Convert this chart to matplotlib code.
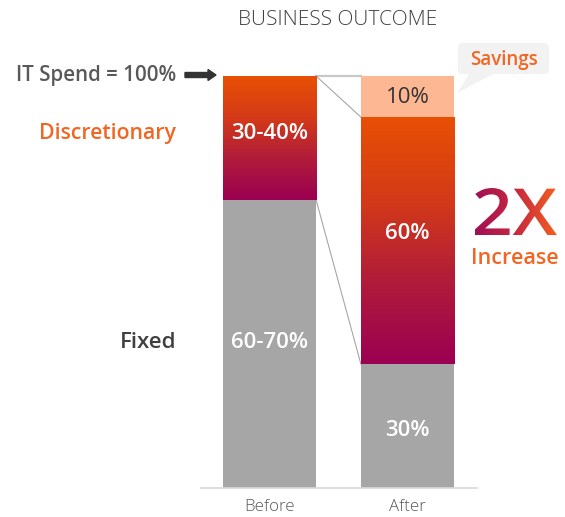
import numpy as np
import matplotlib
matplotlib.use("Agg")
import matplotlib.pyplot as plt
from matplotlib.colors import LinearSegmentedColormap
from matplotlib.patches import FancyBboxPatch, Polygon, PathPatch, FancyArrow
from matplotlib.textpath import TextPath
from matplotlib.font_manager import FontProperties
from matplotlib.transforms import Affine2D

# ---- data ----
categories = ["Before", "After"]
fixed = [70, 30]
discretionary = [30, 60]
savings = [0, 10]
fixed_labels = ["60-70%", "30%"]
disc_labels = ["30-40%", "60%"]
savings_labels = ["", "10%"]

W, H = 565, 517
fig = plt.figure(figsize=(W / 100, H / 100), dpi=100)
FONT = "Open Sans"

GRAY = "#A6A6A6"
ORANGE = "#E85005"
PURPLE = "#9B0052"
SAV = "#FDB792"
TXT_ORANGE = "#F26522"
DARK = "#404040"

ax = fig.add_axes([200.5 / W, 29 / H, 276 / W, 412 / H])
ax.set_xlim(-0.5, 1.5)
ax.set_ylim(0, 100)
bw = 0.674
x = np.arange(len(categories))

ax.bar(x, fixed, bw, color=GRAY, zorder=2)
disc_bars = ax.bar(x, discretionary, bw, bottom=fixed, color="none", zorder=2)
ax.bar(x, savings, bw, bottom=np.array(fixed) + np.array(discretionary), color=SAV, zorder=2)

cmap = LinearSegmentedColormap.from_list("g", [PURPLE, "#B01C3A", "#D43A18", ORANGE])
grad = np.linspace(0, 1, 256).reshape(-1, 1)
for b in disc_bars:
    x0, y0 = b.get_x(), b.get_y()
    im = ax.imshow(grad, cmap=cmap, origin="lower", aspect="auto",
                   extent=[x0, x0 + b.get_width(), y0, y0 + b.get_height()], zorder=2)
    im.set_clip_path(b)
ax.set_xlim(-0.5, 1.5)
ax.set_ylim(0, 100)

# connectors
xl, xr = x[0] + bw / 2, x[1] - bw / 2
top0 = fixed[0] + discretionary[0] + savings[0]
top1 = fixed[1] + discretionary[1] + savings[1]
ax.plot([xl, xr], [top0, top1], color="#C8C8C8", lw=1.6, zorder=1, clip_on=False)
ax.plot([xl, xr], [top0, fixed[1] + discretionary[1]], color="#A6A6A6", lw=0.8, zorder=1, clip_on=False)
ax.plot([xl, xr], [fixed[0], fixed[1]], color="#A6A6A6", lw=0.8, zorder=1, clip_on=False)

# bar labels (small vertical offsets to match the original placement)
fixed_off = [0.3, -1.1]
disc_off = [1.0, 1.7]
LBL = 16
for i in range(2):
    ax.text(x[i], fixed[i] / 2 + fixed_off[i], fixed_labels[i], ha="center", va="center",
            color="white", fontsize=LBL, fontfamily=FONT, fontweight="semibold", zorder=3)
    ax.text(x[i], fixed[i] + discretionary[i] / 2 + disc_off[i], disc_labels[i], ha="center", va="center",
            color="white", fontsize=LBL, fontfamily=FONT, fontweight="semibold", zorder=3)
    if savings[i]:
        ax.text(x[i], fixed[i] + discretionary[i] + savings[i] / 2 - 0.3, savings_labels[i], ha="center",
                va="center", color="#333333", fontsize=LBL, fontfamily=FONT, fontweight="normal", zorder=3)

for s in ["top", "left", "right"]:
    ax.spines[s].set_visible(False)
ax.spines["bottom"].set_color("#D9D9D9")
ax.spines["bottom"].set_linewidth(1.2)
ax.set_yticks([])
ax.set_xticks(x)
ax.set_xticklabels(categories, fontfamily=FONT, fontweight="light", fontsize=12.2, color="#595959")
ax.tick_params(axis="x", length=0, pad=8)

# overlay in pixel coordinates
ov = fig.add_axes([0, 0, 1, 1], zorder=5)
ov.set_xlim(0, W)
ov.set_ylim(H, 0)
ov.axis("off")

ov.text(338, 20, "BUSINESS OUTCOME", ha="center", va="center", fontsize=15,
        fontfamily=FONT, fontweight="light", color=DARK)
ov.text(176, 75, "IT Spend = 100%", ha="right", va="center", fontsize=14.8,
        fontfamily=FONT, fontweight="semibold", color="#595959")
ov.add_patch(FancyArrow(185, 75, 31, 0, width=5, head_width=11, head_length=8,
                        length_includes_head=True, color="#333333"))
ov.text(176, 133, "Discretionary", ha="right", va="center", fontsize=15.3,
        fontfamily=FONT, fontweight="semibold", color=TXT_ORANGE)
ov.text(176, 342, "Fixed", ha="right", va="center", fontsize=16,
        fontfamily=FONT, fontweight="semibold", color=DARK)

# savings callout
ov.add_patch(FancyBboxPatch((458, 43), 91, 31, boxstyle="round,pad=0,rounding_size=5",
                            fc="#F2F2F2", ec="none"))
ov.add_patch(Polygon([[470, 73], [495, 73], [457, 93]], closed=True, fc="#F2F2F2", ec="none"))
ov.text(504, 60, "Savings", ha="center", va="center", fontsize=13.5,
        fontfamily=FONT, fontweight="semibold", color=TXT_ORANGE)

ov.text(515, 258, "Increase", ha="center", va="center", fontsize=15.5,
        fontfamily=FONT, fontweight="semibold", color=TXT_ORANGE)

# gradient "2X"
fp = FontProperties(family=FONT, weight="semibold")
tp = TextPath((0, 0), "2X", size=50, prop=fp)
bb = tp.get_extents()
sx = (557 - 475) / bb.width
sy = (235 - 188) / bb.height
tr = Affine2D().translate(-bb.x0, -bb.y0).scale(sx, -sy).translate(475, 235) + ov.transData
patch = PathPatch(tp, transform=tr, fc="none", ec="none")
ov.add_patch(patch)
hg = np.linspace(0, 1, 256).reshape(1, -1)
cm2 = LinearSegmentedColormap.from_list("h", ["#9E0E55", "#C8283E", "#F4621E"])
im2 = ov.imshow(hg, cmap=cm2, aspect="auto", extent=[473, 559, 237, 186], zorder=6)
im2.set_clip_path(patch)
ov.set_xlim(0, W)
ov.set_ylim(H, 0)

fig.savefig("out.png", dpi=100)
